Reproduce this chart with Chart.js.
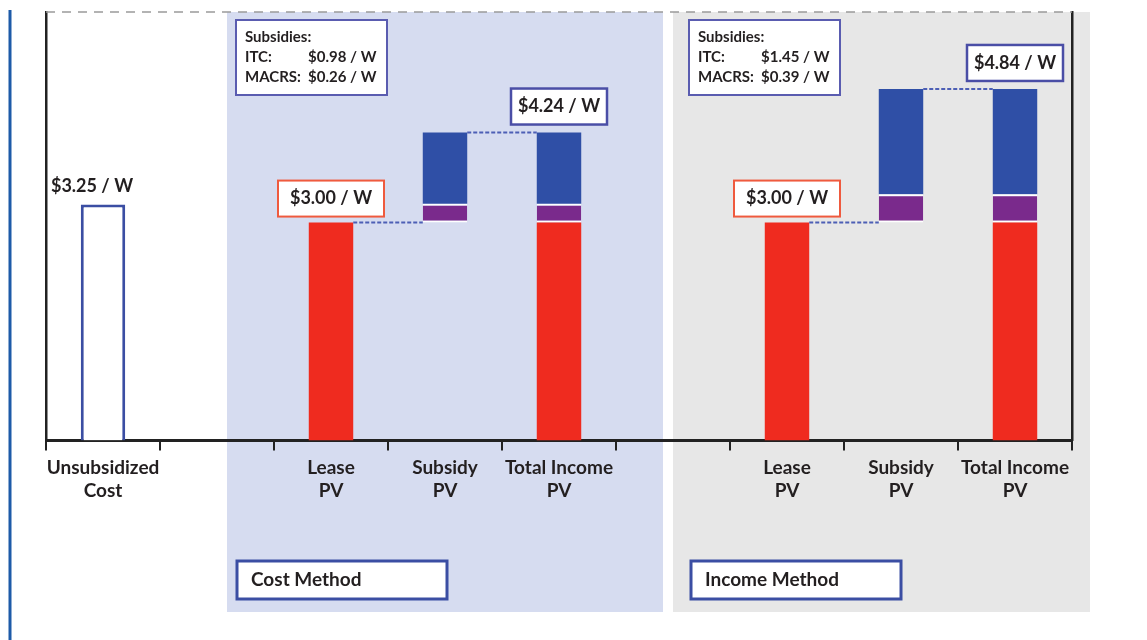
<!DOCTYPE html>
<html>
<head>
<meta charset="utf-8">
<script src="https://cdn.jsdelivr.net/npm/chart.js@4.4.1/dist/chart.umd.min.js"></script>
<style>
  html, body { margin: 0; padding: 0; background: #fff; }
  #wrap { position: relative; width: 1147px; height: 640px; }
</style>
</head>
<body>
<div id="wrap"><canvas id="myChart"></canvas></div>
<script>
// data
const categories = [['Unsubsidized', 'Cost'], '', ['Lease', 'PV'], ['Subsidy', 'PV'], ['Total Income', 'PV'],
                    '', ['Lease', 'PV'], ['Subsidy', 'PV'], ['Total Income', 'PV']];
const methods = ['Cost Method', 'Income Method'];
const unsubsidizedCost = 3.25;
const leasePV = [3.00, 3.00];
const itc = [0.98, 1.45];
const macrs = [0.26, 0.39];
const yMax = 5.9;

// slot of each column per method
const leaseIdx = [2, 6];
const subsidyIdx = [3, 7];
const totalIdx = [4, 8];

const ctx = document.getElementById('myChart');
const fontFam = 'Lato, "Open Sans", sans-serif';
const ink = '#231f20';

const empty = () => categories.map(() => null);
const unsubData = empty();
unsubData[0] = [0, unsubsidizedCost];
const leaseData = empty(), macrsData = empty(), itcData = empty();
methods.forEach((m, i) => {
    const l = leasePV[i], mc = l + macrs[i], tot = mc + itc[i];
    leaseData[leaseIdx[i]] = [0, l];
    leaseData[totalIdx[i]] = [0, l];
    [subsidyIdx[i], totalIdx[i]].forEach(k => {
        macrsData[k] = [l, mc];
        itcData[k] = [mc, tot];
    });
});

const money = v => '$' + v.toFixed(2) + ' / W';

const drawBox = (c, left, top, w, h, border, lw) => {
    c.fillStyle = '#fff';
    c.fillRect(left, top, w, h);
    c.strokeStyle = border;
    c.lineWidth = lw;
    c.strokeRect(left, top, w, h);
};

const decor = {
    id: 'decor',
    beforeDraw(chart) {
        const c = chart.ctx, x = chart.scales.x, y = chart.scales.y;
        c.save();
        c.fillStyle = '#fff';
        c.fillRect(0, 0, chart.width, chart.height);
        // method panels
        c.fillStyle = '#d6dcf0';
        const p1 = x.getPixelForValue(1) + 10, p2 = x.getPixelForValue(5) - 10;
        c.fillRect(p1, y.top, p2 - p1, 600);
        c.fillStyle = '#e7e7e7';
        const p3 = x.getPixelForValue(5);
        c.fillRect(p3, y.top, x.right + 18 - p3, 600);
        // left page rule
        c.strokeStyle = '#1d5aa8';
        c.lineWidth = 3;
        c.beginPath();
        c.moveTo(10, 10);
        c.lineTo(10, 640);
        c.stroke();
        c.restore();
    },
    beforeDatasetsDraw(chart) {
        const c = chart.ctx, a = chart.chartArea;
        c.save();
        c.strokeStyle = '#9a9a9a';
        c.lineWidth = 1.5;
        c.setLineDash([9, 7]);
        c.beginPath();
        c.moveTo(a.left, a.top);
        c.lineTo(a.right, a.top);
        c.stroke();
        c.restore();
    },
    afterDraw(chart) {
        const c = chart.ctx, x = chart.scales.x, y = chart.scales.y;
        const lease = chart.getDatasetMeta(1).data;
        const itcBars = chart.getDatasetMeta(3).data;
        c.save();
        c.textBaseline = 'middle';
        c.textAlign = 'center';
        c.font = 'bold 18px ' + fontFam;
        c.fillStyle = ink;
        // unsubsidized label
        c.fillText(money(unsubsidizedCost), x.getPixelForValue(0) - 11, y.getPixelForValue(unsubsidizedCost) - 18);

        methods.forEach((m, i) => {
            const lb = lease[leaseIdx[i]], sb = itcBars[subsidyIdx[i]], tb = itcBars[totalIdx[i]];
            const tot = leasePV[i] + macrs[i] + itc[i];
            // connectors
            c.strokeStyle = '#4d5fb5';
            c.lineWidth = 2;
            c.setLineDash([4, 2]);
            c.beginPath();
            c.moveTo(lb.x + lb.width / 2, lb.y);
            c.lineTo(sb.x - sb.width / 2, lb.y);
            c.moveTo(sb.x + sb.width / 2, sb.y);
            c.lineTo(tb.x - tb.width / 2, sb.y);
            c.stroke();
            c.setLineDash([]);

            // value boxes
            c.font = 'bold 18px ' + fontFam;
            drawBox(c, lb.x - 53, lb.y - 42, 106, 36, '#ef5a3e', 2);
            c.fillStyle = ink;
            c.fillText(money(leasePV[i]), lb.x, lb.y - 24);
            drawBox(c, tb.x - 48, tb.y - 44, 96, 36, '#4a4ea6', 2.5);
            c.fillStyle = ink;
            c.fillText(money(tot), tb.x, tb.y - 26);

            // subsidies box
            const bl = x.getPixelForValue(leaseIdx[i]) - 95 - i * 3;
            drawBox(c, bl, 20, 151, 75, '#5a5cb0', 2);
            c.fillStyle = ink;
            c.textAlign = 'left';
            c.font = 'bold 15px ' + fontFam;
            c.fillText('Subsidies:', bl + 9, 37);
            c.fillText('ITC:', bl + 9, 57);
            c.fillText(money(itc[i]), bl + 72, 57);
            c.fillText('MACRS:', bl + 9, 77);
            c.fillText(money(macrs[i]), bl + 72, 77);

            // method label box
            const ml = x.getPixelForValue(leaseIdx[i] - 1) + 20 - i * 2;
            drawBox(c, ml, 561, 210, 38, '#3b4ea3', 3);
            c.fillStyle = ink;
            c.font = 'bold 19px ' + fontFam;
            c.fillText(m, ml + 14, 580);
            c.textAlign = 'center';
        });
        c.restore();
    }
};

const segBorder = { top: 2, bottom: 2, left: 0, right: 0 };

new Chart(ctx, {
    type: 'bar',
    data: {
        labels: categories,
        datasets: [
            { label: 'Unsubsidized', data: unsubData, backgroundColor: '#ffffff', borderColor: '#3b4ea3', borderWidth: 3, borderSkipped: 'start' },
            { label: 'Lease PV', data: leaseData, backgroundColor: '#ef2b1f', borderWidth: 0 },
            { label: 'MACRS', data: macrsData, backgroundColor: '#7a2a8c', borderColor: '#ffffff', borderWidth: segBorder, borderSkipped: false },
            { label: 'ITC', data: itcData, backgroundColor: '#2f4fa6', borderColor: '#ffffff', borderWidth: { top: 0, bottom: 0, left: 0, right: 0 }, borderSkipped: false }
        ]
    },
    options: {
        responsive: true,
        maintainAspectRatio: false,
        animation: false,
        layout: { padding: { left: 46, right: 75, top: 12, bottom: 132 } },
        datasets: { bar: { categoryPercentage: 1, barPercentage: 0.39 } },
        plugins: {
            legend: { display: false },
            tooltip: { enabled: false }
        },
        scales: {
            x: {
                stacked: true,
                offset: true,
                grid: { display: true, drawOnChartArea: false, drawTicks: true, tickLength: 10, color: '#222', lineWidth: 2, offset: true },
                border: { display: true, color: '#222', width: 3 },
                ticks: { color: ink, padding: 6, maxRotation: 0, autoSkip: false, font: { family: fontFam, size: 19, weight: 'bold', lineHeight: 1.2 } }
            },
            y: {
                stacked: false,
                min: 0,
                max: yMax,
                ticks: { display: false },
                grid: { display: false, drawTicks: false },
                border: { display: true, color: '#222', width: 2.5 }
            },
            y2: {
                position: 'right',
                min: 0,
                max: yMax,
                ticks: { display: false },
                grid: { display: false, drawTicks: false },
                border: { display: true, color: '#222', width: 2.5 }
            }
        }
    },
    plugins: [decor]
});
</script>
</body>
</html>
